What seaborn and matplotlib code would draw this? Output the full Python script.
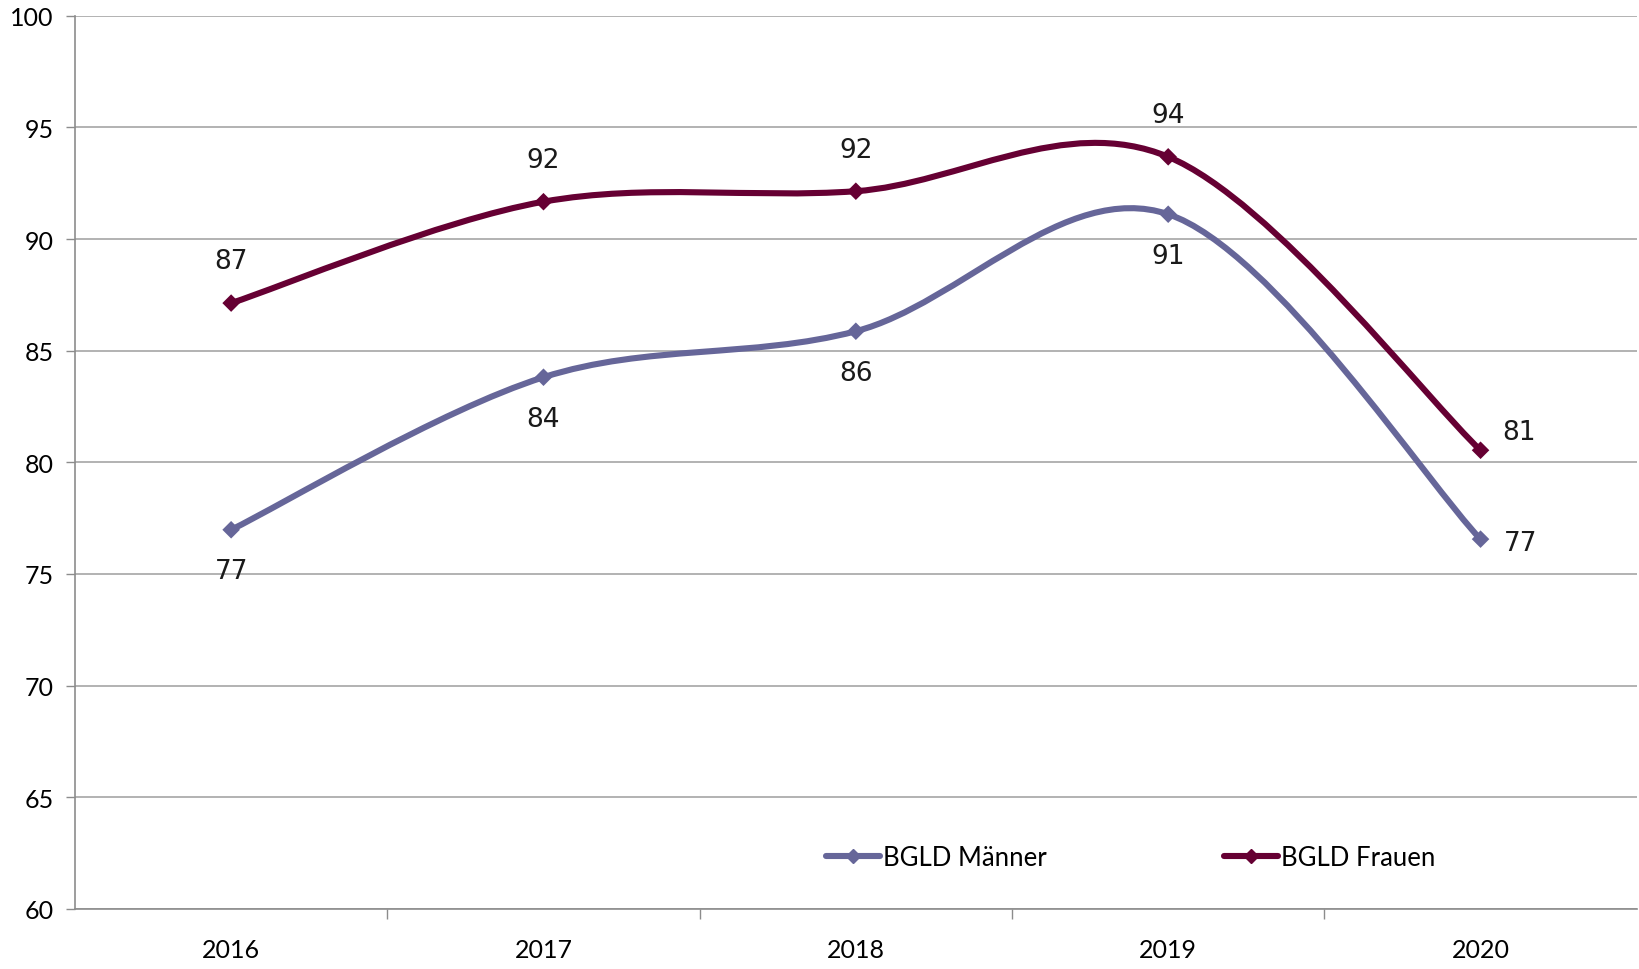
import numpy as np
import pandas as pd
import matplotlib
matplotlib.use("Agg")
import matplotlib.pyplot as plt
from matplotlib.path import Path
from matplotlib.patches import PathPatch
from matplotlib.lines import Line2D
import seaborn as sns

years = ["2016", "2017", "2018", "2019", "2020"]
maenner = [76.98, 83.81, 85.87, 91.11, 76.56]
frauen = [87.13, 91.67, 92.14, 93.68, 80.54]
series_names = ["BGLD Männer", "BGLD Frauen"]
colors = ["#666699", "#660033"]
y_ticks = [60, 65, 70, 75, 80, 85, 90, 95, 100]

sns.set_theme(style="white")
plt.rcParams["font.family"] = ["Lato", "DejaVu Sans"]

fig = plt.figure(figsize=(16.4, 9.7), dpi=100)
ax = fig.add_axes([0.0457, 0.0619, 0.9523, 0.9209])

xs = np.arange(len(years))


def smooth_path(x, y):
    pts = np.column_stack([x, y]).astype(float)
    n = len(pts)
    verts = [pts[0]]
    codes = [Path.MOVETO]
    for i in range(n - 1):
        p0 = pts[i - 1] if i > 0 else pts[i]
        p1 = pts[i]
        p2 = pts[i + 1]
        p3 = pts[i + 2] if i + 2 < n else pts[i + 1]
        c1 = p1 + (p2 - p0) / 6.0
        c2 = p2 - (p3 - p1) / 6.0
        verts += [c1, c2, p2]
        codes += [Path.CURVE4] * 3
    return Path(verts, codes)


df = pd.DataFrame({"x": np.concatenate([xs, xs]),
                   "y": maenner + frauen,
                   "s": [series_names[0]] * len(xs) + [series_names[1]] * len(xs)})

for vals, col in zip([maenner, frauen], colors):
    patch = PathPatch(smooth_path(xs, vals), facecolor="none", edgecolor=col,
                      lw=4.4, capstyle="round", joinstyle="round", zorder=3)
    ax.add_patch(patch)

sns.scatterplot(data=df, x="x", y="y", hue="s", palette=colors, marker="D",
                s=80, edgecolor="none", ax=ax, legend=False, zorder=4)

label_font = dict(fontsize=19, color="#1a1a1a", family=["DejaVu Sans"])
for i, v in enumerate(maenner):
    if i < len(xs) - 1:
        ax.annotate(f"{v:.0f}", (xs[i], v), xytext=(0, -30), textcoords="offset points",
                    ha="center", va="center", **label_font)
    else:
        ax.annotate(f"{v:.0f}", (xs[i], v), xytext=(29, -3), textcoords="offset points",
                    ha="center", va="center", **label_font)
for i, v in enumerate(frauen):
    if i < len(xs) - 1:
        ax.annotate(f"{v:.0f}", (xs[i], v), xytext=(0, 30), textcoords="offset points",
                    ha="center", va="center", **label_font)
    else:
        ax.annotate(f"{v:.0f}", (xs[i], v), xytext=(28, 13), textcoords="offset points",
                    ha="center", va="center", **label_font)

ax.set_xlim(-0.5, len(years) - 0.5)
ax.set_ylim(60, 100)
ax.set_yticks(y_ticks)
ax.set_yticklabels([str(t) for t in y_ticks], fontsize=18, color="black")
ax.set_xticks(xs)
ax.set_xticklabels(years, fontsize=18, color="black")
ax.set_xticks(np.arange(0.5, len(years) - 0.5, 1.0), minor=True)
ax.tick_params(axis="x", which="major", length=0, pad=21)
ax.tick_params(axis="x", which="minor", direction="out", length=7, width=1, color="#8c8c8c", bottom=True)
ax.tick_params(axis="y", direction="out", length=6.5, width=1, color="#8c8c8c", left=True, pad=9)
ax.set_xlabel("")
ax.set_ylabel("")
ax.grid(axis="y", color="#a6a6a6", lw=1.2)
ax.grid(axis="x", visible=False)
for side in ["top", "right"]:
    ax.spines[side].set_visible(False)
for side in ["left", "bottom"]:
    ax.spines[side].set_color("#8c8c8c")
    ax.spines[side].set_linewidth(1.2)

handles = [Line2D([0], [0], color=c, lw=4.4, marker="D", markersize=7.5, solid_capstyle="round")
           for c in colors]
leg = ax.legend(handles, series_names, loc="center", bbox_to_anchor=(0.676, 0.058),
                ncol=2, frameon=False, fontsize=18.5, handlelength=2.1, handletextpad=0.1,
                columnspacing=6.9)
for t in leg.get_texts():
    t.set_color("black")

fig.savefig("out.png", dpi=100)
